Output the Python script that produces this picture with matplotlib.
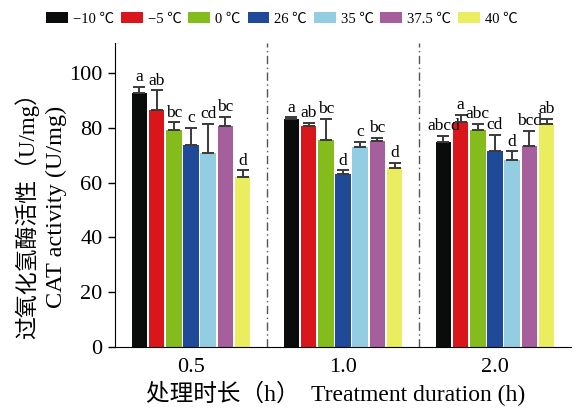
import numpy as np
import matplotlib
matplotlib.use("Agg")
import matplotlib.pyplot as plt

plt.rcParams['font.family'] = ['Liberation Serif', 'Noto Sans CJK SC', 'DejaVu Sans']

durations = ["0.5", "1.0", "2.0"]
temps = ["\u221210 \u2103", "\u22125 \u2103", "0 \u2103", "26 \u2103", "35 \u2103", "37.5 \u2103", "40 \u2103"]
colors = ["#0a0c0c", "#d9161c", "#84bc1e", "#1f4a97", "#93cde2", "#a45f9c", "#eaed60"]

# mean CAT activity per temperature, one value per duration (0.5, 1.0, 2.0 h)
m_m10 = [92.7, 83.4, 75.0]
m_m5 = [86.7, 80.8, 82.1]
m_0 = [79.1, 75.5, 79.4]
m_26 = [73.8, 63.1, 71.7]
m_35 = [70.8, 72.9, 68.3]
m_375 = [80.6, 75.2, 73.4]
m_40 = [61.9, 65.5, 81.3]

# upper error (SD)
e_m10 = [2.2, 0.4, 2.0]
e_m5 = [7.0, 1.1, 2.7]
e_0 = [3.0, 7.9, 2.2]
e_26 = [6.3, 1.4, 5.8]
e_35 = [10.8, 1.9, 3.2]
e_375 = [3.4, 1.1, 5.5]
e_40 = [2.6, 1.8, 2.1]

letters = [
    ["a", "a", "abcd"],
    ["ab", "ab", "a"],
    ["bc", "bc", "abc"],
    ["c", "d", "cd"],
    ["cd", "c", "d"],
    ["bc", "bc", "bcd"],
    ["d", "d", "ab"],
]

means = [m_m10, m_m5, m_0, m_26, m_35, m_375, m_40]
errs = [e_m10, e_m5, e_0, e_26, e_35, e_375, e_40]

fig = plt.figure(figsize=(5.86, 4.12), dpi=100)
ax = fig.add_axes([115 / 586, 1 - 347 / 412, (571 - 115) / 586, (347 - 43) / 412])

x = np.arange(len(durations))
pitch = 0.113
width = 0.102
for j, (mv, ev, col, lab) in enumerate(zip(means, errs, colors, temps)):
    xp = x + (j - 3) * pitch
    ax.bar(xp, mv, width, color=col, label=lab, zorder=2)
    ax.errorbar(xp, mv, yerr=[np.zeros(3), ev], fmt="none", ecolor="#3a3a3a",
                elinewidth=1.4, capsize=4, capthick=1.4, zorder=3)
    for k in range(3):
        ax.text(xp[k], mv[k] + ev[k] + 0.6, letters[j][k], ha="center", va="bottom",
                fontsize=12.5)

for s in [0.5, 1.5]:
    ax.axvline(s, color="#555555", lw=1.0, ls=(0, (6, 2.5, 1, 2.5)), zorder=1)

ax.set_xlim(-0.5, 2.5)
ax.set_ylim(0, 111)
ax.set_yticks(np.arange(0, 101, 20))
ax.set_xticks(x)
ax.set_xticklabels(durations)
ax.tick_params(axis="both", labelsize=16, length=5, width=1, direction="out")
ax.tick_params(axis="x", length=0, pad=8)
ax.tick_params(axis="y", pad=4)
ax.spines["top"].set_visible(False)
ax.spines["right"].set_visible(False)

fig.text(27 / 586, 1 - 210 / 412, "过氧化氢酶活性（U/mg）", rotation=90,
         ha="center", va="center", fontsize=16.5)
fig.text(56 / 586, 1 - 207 / 412, "CAT activity (U/mg)", rotation=90,
         ha="center", va="center", fontsize=17.5)
fig.text(336 / 586, 1 - 393 / 412, "处理时长（h）  Treatment duration (h)",
         ha="center", va="center", fontsize=17)

fig.legend(loc="center", bbox_to_anchor=(282 / 586, 1 - 19 / 412), ncol=7,
           frameon=False, fontsize=10.5, handlelength=1.5, handleheight=0.8,
           handletextpad=0.35, columnspacing=0.45, borderaxespad=0)

fig.savefig("out.png", dpi=100)
